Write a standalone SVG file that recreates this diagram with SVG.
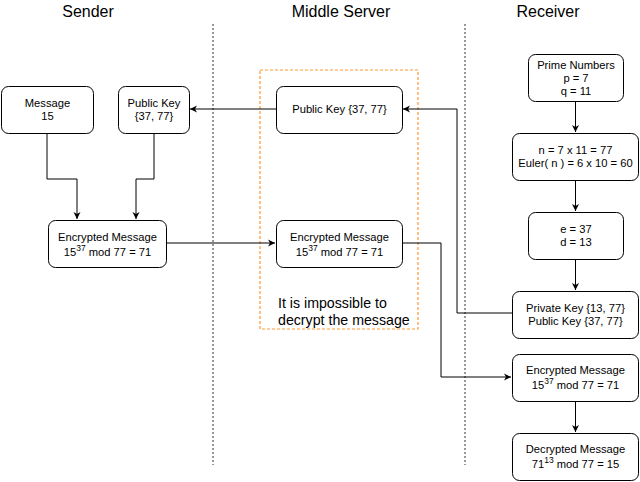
<svg xmlns="http://www.w3.org/2000/svg" width="640" height="482" viewBox="0 0 640 482">
<defs>
<marker id="ah" markerWidth="8" markerHeight="8" refX="7" refY="4" orient="auto" markerUnits="userSpaceOnUse">
<path d="M0,0.5 L7,4 L0,7.5 L2,4 Z" fill="#000"/>
</marker>
</defs>
<style>
.box{fill:#fff;stroke:#000;stroke-width:1}
.t{font-family:"Liberation Sans",Arial,sans-serif;font-size:11.2px;fill:#000;text-anchor:middle}
.h{font-family:"Liberation Sans",Arial,sans-serif;font-size:16px;fill:#000;text-anchor:middle}
.note{font-family:"Liberation Sans",Arial,sans-serif;font-size:14.2px;fill:#000}
.sup{font-size:8.5px}
.c{fill:none;stroke:#000;stroke-width:1;marker-end:url(#ah)}
.sep{stroke:#555;stroke-width:1.2;stroke-dasharray:2,2}
</style>
<rect width="640" height="482" fill="#fff"/>
<g id="titles">
<text class="h" x="88" y="17">Sender</text>
<text class="h" x="341" y="17">Middle Server</text>
<text class="h" x="548" y="17">Receiver</text>
</g>
<g id="separators">
<line class="sep" x1="213" y1="24" x2="213" y2="465"/>
<line class="sep" x1="465" y1="24" x2="465" y2="465"/>
</g>
<g id="middle-zone">
<rect x="260" y="70" width="158" height="259" fill="none" stroke="#ff9933" stroke-width="1.2" stroke-dasharray="3,2"/>
<text class="note" x="278" y="308">It is impossible to</text>
<text class="note" x="278" y="325">decrypt the message</text>
</g>
<g id="connectors">
<path class="c" d="M47,133 V179 H77 V219"/>
<path class="c" d="M154,133 V179 H136 V219"/>
<path class="c" d="M276,109 H190"/>
<path class="c" d="M166,243 H275"/>
<path class="c" d="M402,243 H441 V377 H511"/>
<path class="c" d="M512,313 H457 V109 H403"/>
<path class="c" d="M575.5,102 V132"/>
<path class="c" d="M575.5,180 V211"/>
<path class="c" d="M575.5,259 V290"/>
<path class="c" d="M575.5,402 V432"/>
</g>
<g id="message">
<rect class="box" x="1.5" y="86.5" width="92" height="47" rx="7"/>
<text class="t" x="47.5" y="107">Message</text>
<text class="t" x="47.5" y="120">15</text>
</g>
<g id="sender-public-key">
<rect class="box" x="118.5" y="86.5" width="71" height="47" rx="7"/>
<text class="t" x="154" y="107">Public Key</text>
<text class="t" x="154" y="120">{37, 77}</text>
</g>
<g id="sender-encrypted">
<rect class="box" x="48.5" y="220.5" width="118" height="47" rx="7"/>
<text class="t" x="107.5" y="241">Encrypted Message</text>
<text class="t" x="107.5" y="256">15<tspan class="sup" dy="-5">37</tspan><tspan dy="5"> mod 77 = 71</tspan></text>
</g>
<g id="middle-public-key">
<rect class="box" x="276.5" y="86.5" width="126" height="47" rx="7"/>
<text class="t" x="339.5" y="113">Public Key {37, 77}</text>
</g>
<g id="middle-encrypted">
<rect class="box" x="276.5" y="220.5" width="126" height="47" rx="7"/>
<text class="t" x="339.5" y="241">Encrypted Message</text>
<text class="t" x="339.5" y="256">15<tspan class="sup" dy="-5">37</tspan><tspan dy="5"> mod 77 = 71</tspan></text>
</g>
<g id="prime-numbers">
<rect class="box" x="528.5" y="54.5" width="95" height="47" rx="7"/>
<text class="t" x="576" y="69">Prime Numbers</text>
<text class="t" x="576" y="82">p = 7</text>
<text class="t" x="576" y="95">q = 11</text>
</g>
<g id="n-euler">
<rect class="box" x="512.5" y="133.5" width="126" height="47" rx="7"/>
<text class="t" x="575.5" y="154">n = 7 x 11 = 77</text>
<text class="t" x="575.5" y="167">Euler( n ) = 6 x 10 = 60</text>
</g>
<g id="e-d">
<rect class="box" x="528.5" y="212.5" width="95" height="47" rx="7"/>
<text class="t" x="576" y="233">e = 37</text>
<text class="t" x="576" y="246">d = 13</text>
</g>
<g id="keys">
<rect class="box" x="512.5" y="291.5" width="126" height="47" rx="7"/>
<text class="t" x="575.5" y="312">Private Key {13, 77}</text>
<text class="t" x="575.5" y="325">Public Key {37, 77}</text>
</g>
<g id="receiver-encrypted">
<rect class="box" x="512.5" y="354.5" width="126" height="47" rx="7"/>
<text class="t" x="575.5" y="374">Encrypted Message</text>
<text class="t" x="575.5" y="389">15<tspan class="sup" dy="-5">37</tspan><tspan dy="5"> mod 77 = 71</tspan></text>
</g>
<g id="decrypted">
<rect class="box" x="512.5" y="433.5" width="126" height="47" rx="7"/>
<text class="t" x="575.5" y="453">Decrypted Message</text>
<text class="t" x="575.5" y="468">71<tspan class="sup" dy="-5">13</tspan><tspan dy="5"> mod 77 = 15</tspan></text>
</g>
</svg>
